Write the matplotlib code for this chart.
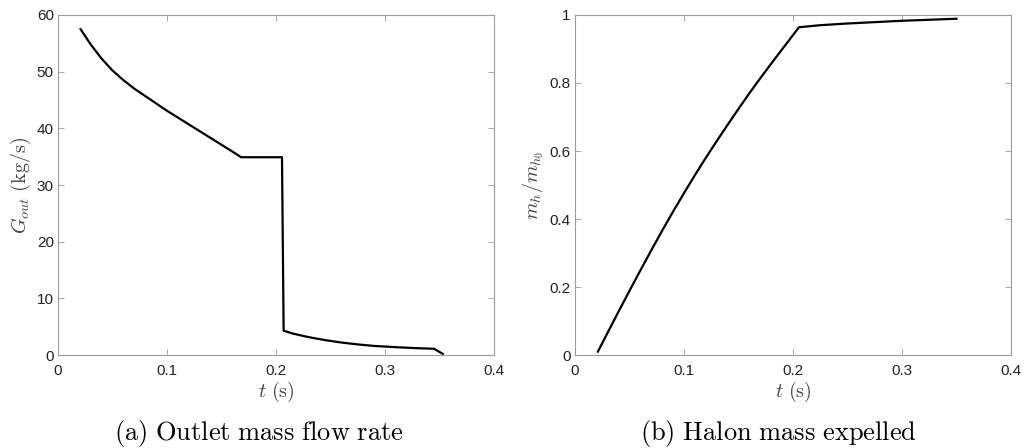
import numpy as np
import matplotlib
matplotlib.use('Agg')
import matplotlib.pyplot as plt

# (a) outlet mass flow rate
t_a = [0.0207, 0.030, 0.040, 0.050, 0.060, 0.070, 0.080, 0.090, 0.100, 0.110,
       0.120, 0.130, 0.140, 0.150, 0.160, 0.168, 0.2055, 0.207, 0.215, 0.230,
       0.246, 0.260, 0.276, 0.290, 0.313, 0.330, 0.345, 0.353]
G_out = [57.5, 54.8, 52.3, 50.2, 48.5, 47.0, 45.7, 44.4, 43.1, 41.9,
         40.7, 39.5, 38.3, 37.1, 35.9, 34.9, 34.9, 4.3, 3.8, 3.15,
         2.6, 2.2, 1.85, 1.6, 1.35, 1.2, 1.1, 0.2]

# (b) halon mass expelled
t_b = [0.021, 0.030, 0.040, 0.050, 0.060, 0.070, 0.080, 0.090, 0.100, 0.110,
       0.120, 0.130, 0.140, 0.150, 0.160, 0.170, 0.180, 0.190, 0.2055,
       0.225, 0.250, 0.275, 0.300, 0.325, 0.350]
m_ratio = [0.010, 0.066, 0.128, 0.189, 0.249, 0.308, 0.366, 0.422, 0.476, 0.529,
           0.580, 0.629, 0.677, 0.724, 0.770, 0.814, 0.857, 0.899, 0.964,
           0.970, 0.975, 0.979, 0.983, 0.986, 0.989]

xticks = [0, 0.1, 0.2, 0.3, 0.4]
xticklabels = ['0', '0.1', '0.2', '0.3', '0.4']

plt.rcParams['mathtext.fontset'] = 'cm'
plt.rcParams['font.family'] = 'Liberation Sans'

W, H = 1024, 448
fig = plt.figure(figsize=(W / 100, H / 100), dpi=100)

ax1 = fig.add_axes([58 / W, 1 - 355 / H, 436 / W, 340 / H])
ax2 = fig.add_axes([575 / W, 1 - 355 / H, 436 / W, 340 / H])

spine_col = '#9a9a9a'
label_col = '#444444'

def style(ax):
    for s in ax.spines.values():
        s.set_color(spine_col)
        s.set_linewidth(0.8)
    ax.tick_params(direction='in', top=True, right=True, length=4, width=0.6,
                   color=spine_col, labelsize=11, labelcolor='#222222')
    ax.tick_params(axis='x', pad=6.5)
    ax.tick_params(axis='y', pad=3)
    ax.set_xlim(0, 0.4)
    ax.set_xticks(xticks)
    ax.set_xticklabels(xticklabels)
    ax.set_xlabel(r'$t\ \mathrm{(s)}$', fontsize=14.5, color=label_col, labelpad=1)

ax1.plot(t_a, G_out, color='black', lw=1.6)
style(ax1)
ax1.set_ylim(0, 60)
ax1.set_yticks([0, 10, 20, 30, 40, 50, 60])
ax1.set_ylabel(r'$G_{out}\ \mathrm{(kg/s)}$', fontsize=14.5, color=label_col, labelpad=3)

ax2.plot(t_b, m_ratio, color='black', lw=1.6)
style(ax2)
ax2.set_ylim(0, 1)
ax2.set_yticks([0, 0.2, 0.4, 0.6, 0.8, 1])
ax2.set_yticklabels(['0', '0.2', '0.4', '0.6', '0.8', '1'])
ax2.set_ylabel(r'$m_h/m_{h_0}$', fontsize=14.5, color=label_col, labelpad=3)

# sub-captions under each panel
fig.text(259 / W, 1 - 440 / H, r'$\mathrm{(a)\ Outlet\ mass\ flow\ rate}$',
         ha='center', va='baseline', fontsize=19)
fig.text(778 / W, 1 - 440 / H, r'$\mathrm{(b)\ Halon\ mass\ expelled}$',
         ha='center', va='baseline', fontsize=19)

fig.savefig('out.png', dpi=100)
